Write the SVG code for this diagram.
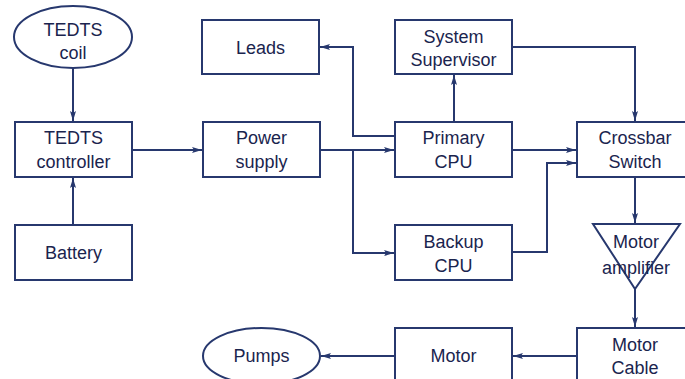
<svg xmlns="http://www.w3.org/2000/svg" width="685" height="379" viewBox="0 0 685 379">
<defs>
<style>
.box{fill:#fff;stroke:#27386e;stroke-width:2}
.t{font-family:"Liberation Sans",Arial,sans-serif;font-size:18px;fill:#1a244e;text-anchor:middle}
.c{fill:none;stroke:#27386e;stroke-width:2}
</style>
<marker id="ah" viewBox="0 0 10 6" refX="10" refY="3" markerWidth="10" markerHeight="6" markerUnits="userSpaceOnUse" orient="auto">
<path d="M0,0 L10,3 L0,6 L2,3 Z" fill="#27386e"/>
</marker>
</defs>
<rect width="685" height="379" fill="#fff"/>
<g id="connectors">
<path class="c" d="M73,69 V121" marker-end="url(#ah)"/>
<path class="c" d="M73,225 V178" marker-end="url(#ah)"/>
<path class="c" d="M132,150 H202" marker-end="url(#ah)"/>
<path class="c" d="M320,150 H394" marker-end="url(#ah)"/>
<path class="c" d="M353,150 V253 H394" marker-end="url(#ah)"/>
<path class="c" d="M395,136 H353 V47 H320" marker-end="url(#ah)"/>
<path class="c" d="M454,122 V75" marker-end="url(#ah)"/>
<path class="c" d="M512,47 H635 V121" marker-end="url(#ah)"/>
<path class="c" d="M512,150 H576" marker-end="url(#ah)"/>
<path class="c" d="M512,252 H547 V163 H576" marker-end="url(#ah)"/>
<path class="c" d="M635,177 V223" marker-end="url(#ah)"/>
<path class="c" d="M635,288 V327" marker-end="url(#ah)"/>
<path class="c" d="M577,356 H513" marker-end="url(#ah)"/>
<path class="c" d="M395,356 H321" marker-end="url(#ah)"/>
</g>
<g id="coil"><ellipse class="box" cx="73" cy="37" rx="59" ry="31"/><text class="t" x="73" y="36">TEDTS</text><text class="t" x="73" y="59">coil</text></g>
<g id="leads"><rect class="box" x="202" y="20" width="117" height="54"/><text class="t" x="260.5" y="53.5">Leads</text></g>
<g id="supervisor"><rect class="box" x="395" y="20" width="117" height="54"/><text class="t" x="453.5" y="43">System</text><text class="t" x="453.5" y="66">Supervisor</text></g>
<g id="controller"><rect class="box" x="15" y="122" width="117" height="55"/><text class="t" x="73.5" y="144">TEDTS</text><text class="t" x="73.5" y="168">controller</text></g>
<g id="power"><rect class="box" x="203" y="122" width="117" height="55"/><text class="t" x="261.5" y="144">Power</text><text class="t" x="261.5" y="168">supply</text></g>
<g id="primary"><rect class="box" x="395" y="122" width="117" height="55"/><text class="t" x="453.5" y="144">Primary</text><text class="t" x="453.5" y="168">CPU</text></g>
<g id="crossbar"><rect class="box" x="577" y="122" width="117" height="55"/><text class="t" x="635" y="144">Crossbar</text><text class="t" x="635" y="168">Switch</text></g>
<g id="battery"><rect class="box" x="15" y="225" width="117" height="55"/><text class="t" x="73.5" y="259">Battery</text></g>
<g id="backup"><rect class="box" x="395" y="225" width="117" height="55"/><text class="t" x="453.5" y="248">Backup</text><text class="t" x="453.5" y="272">CPU</text></g>
<g id="amplifier"><path class="box" style="fill:none" d="M593,224 H680 L635,289 Z"/><text class="t" x="636" y="248">Motor</text><text class="t" x="636" y="274">amplifier</text></g>
<g id="cable"><rect class="box" x="577" y="328" width="117" height="60"/><text class="t" x="635" y="351">Motor</text><text class="t" x="635" y="374">Cable</text></g>
<g id="motor"><rect class="box" x="395" y="328" width="117" height="60"/><text class="t" x="453.5" y="362">Motor</text></g>
<g id="pumps"><ellipse class="box" cx="261.5" cy="356" rx="58.5" ry="28"/><text class="t" x="261.5" y="362">Pumps</text></g>
</svg>
